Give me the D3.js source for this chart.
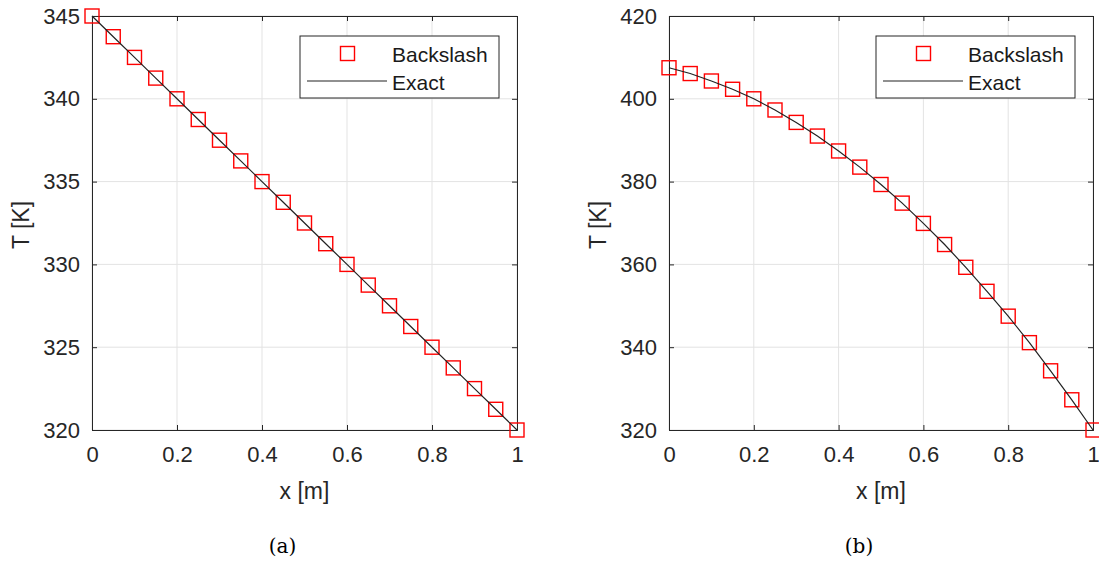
<!DOCTYPE html>
<html>
<head>
<meta charset="utf-8">
<script src="https://cdn.jsdelivr.net/npm/d3@7"></script>
<style>
  body { margin: 0; background: #fff; }
  svg { display: block; }
</style>
</head>
<body>
<svg id="chart" width="1099" height="563"></svg>
<script>
// Data
const xNodes = [0, 0.05, 0.1, 0.15, 0.2, 0.25, 0.3, 0.35, 0.4, 0.45, 0.5,
                0.55, 0.6, 0.65, 0.7, 0.75, 0.8, 0.85, 0.9, 0.95, 1];
const tempA = [345, 343.75, 342.5, 341.25, 340, 338.75, 337.5, 336.25, 335, 333.75, 332.5,
               331.25, 330, 328.75, 327.5, 326.25, 325, 323.75, 322.5, 321.25, 320];
const tempB = [407.5, 406.1, 404.3, 402.3, 400.0, 397.3, 394.3, 391.0, 387.4, 383.5, 379.3,
               374.8, 369.9, 364.8, 359.3, 353.5, 347.5, 341.1, 334.3, 327.3, 320];
const xTicks = [0, 0.2, 0.4, 0.6, 0.8, 1];
const yTicksA = [320, 325, 330, 335, 340, 345];
const yTicksB = [320, 340, 360, 380, 400, 420];
const seriesNames = ['Backslash', 'Exact'];

const svg = d3.select('#chart');
const axisColor = '#262626';
const font = 'Liberation Sans, Arial, sans-serif';

function drawPanel(opts) {
    const { left, right, top, bottom, yDomain, yTicks, values, caption } = opts;
    const g = svg.append('g');

    const x = d3.scaleLinear().domain([0, 1]).range([left, right]);
    const y = d3.scaleLinear().domain(yDomain).range([bottom, top]);

    // grid
    g.selectAll('.gx').data(xTicks).join('line')
        .attr('x1', d => x(d)).attr('x2', d => x(d))
        .attr('y1', top).attr('y2', bottom)
        .attr('stroke', '#e3e3e3').attr('stroke-width', 1);
    g.selectAll('.gy').data(yTicks).join('line')
        .attr('x1', left).attr('x2', right)
        .attr('y1', d => y(d)).attr('y2', d => y(d))
        .attr('stroke', '#e3e3e3').attr('stroke-width', 1);

    // axes (ticks inward, on all four sides)
    const tick = 5;
    const xb = g.append('g').attr('transform', `translate(0,${bottom})`)
        .call(d3.axisBottom(x).tickValues(xTicks).tickSize(-tick).tickPadding(16)
              .tickFormat(d3.format('~g')));
    const xt = g.append('g').attr('transform', `translate(0,${top})`)
        .call(d3.axisTop(x).tickValues(xTicks).tickSize(-tick).tickFormat(''));
    const yl = g.append('g').attr('transform', `translate(${left},0)`)
        .call(d3.axisLeft(y).tickValues(yTicks).tickSize(-tick).tickPadding(12));
    const yr = g.append('g').attr('transform', `translate(${right},0)`)
        .call(d3.axisRight(y).tickValues(yTicks).tickSize(-tick).tickFormat(''));
    [xb, xt, yl, yr].forEach(a => {
        a.selectAll('path, line').attr('stroke', axisColor).attr('stroke-width', 1);
        a.selectAll('text').attr('fill', axisColor)
            .style('font-family', font).style('font-size', '22px');
    });

    // markers
    const ms = 14;
    g.selectAll('.mk').data(values).join('rect')
        .attr('x', (d, i) => x(xNodes[i]) - ms / 2)
        .attr('y', d => y(d) - ms / 2)
        .attr('width', ms).attr('height', ms)
        .attr('fill', 'none').attr('stroke', '#ff0000').attr('stroke-width', 1.4);

    // exact line
    const line = d3.line().x((d, i) => x(xNodes[i])).y(d => y(d));
    g.append('path').datum(values)
        .attr('d', line)
        .attr('fill', 'none')
        .attr('stroke', '#222')
        .attr('stroke-width', 1.2);

    // axis labels
    g.append('text')
        .attr('x', (left + right) / 2).attr('y', 499)
        .attr('text-anchor', 'middle')
        .attr('fill', axisColor)
        .style('font-family', font).style('font-size', '23px')
        .text('x [m]');
    g.append('text')
        .attr('transform', `translate(${left - 63},${(top + bottom) / 2 + 2}) rotate(-90)`)
        .attr('text-anchor', 'middle')
        .attr('fill', axisColor)
        .style('font-family', font).style('font-size', '23px')
        .text('T [K]');

    // legend
    const lx = right - 217, ly = top + 20, lw = 199, lh = 62;
    const lg = g.append('g');
    lg.append('rect')
        .attr('x', lx).attr('y', ly).attr('width', lw).attr('height', lh)
        .attr('fill', '#fff').attr('stroke', axisColor).attr('stroke-width', 1);
    lg.append('rect')
        .attr('x', lx + 40.5).attr('y', ly + 10.5).attr('width', 14).attr('height', 14)
        .attr('fill', 'none').attr('stroke', '#ff0000').attr('stroke-width', 1.4);
    lg.append('line')
        .attr('x1', lx + 7).attr('x2', lx + 87)
        .attr('y1', ly + 45).attr('y2', ly + 45)
        .attr('stroke', '#222').attr('stroke-width', 1.2);
    lg.selectAll('.lt').data(seriesNames).join('text')
        .attr('x', lx + 92)
        .attr('y', (d, i) => ly + 18.5 + i * 28.5)
        .attr('dy', '0.35em')
        .attr('fill', '#1a1a1a')
        .style('font-family', font).style('font-size', '21px')
        .text(d => d);

    // caption
    g.append('text')
        .attr('x', (left + right) / 2 - 22).attr('y', 553)
        .attr('text-anchor', 'middle')
        .attr('fill', '#000')
        .style('font-family', 'DejaVu Serif, Liberation Serif, serif')
        .style('font-size', '20px')
        .text(caption);
}

drawPanel({ left: 92, right: 517, top: 16, bottom: 430,
            yDomain: [320, 345], yTicks: yTicksA, values: tempA, caption: '(a)' });
drawPanel({ left: 669, right: 1093, top: 16, bottom: 430,
            yDomain: [320, 420], yTicks: yTicksB, values: tempB, caption: '(b)' });
</script>
</body>
</html>
